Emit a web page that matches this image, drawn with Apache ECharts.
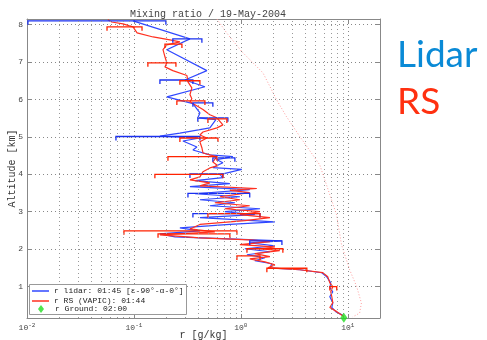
<!DOCTYPE html>
<html>
<head>
<meta charset="utf-8">
<script src="https://cdn.jsdelivr.net/npm/echarts@6/dist/echarts.min.js"></script>
<style>html,body{margin:0;padding:0;background:#fff}#c{width:487px;height:340px}</style>
</head>
<body>
<div id="c"></div>
<script>
// ---- data ----
const lidarAlt = [8.10,7.62,7.33,6.77,6.52,6.34,6.07,5.89,5.64,5.51,5.46,5.24,5.10,5.02,4.97,4.89,4.73,4.65,4.52,4.47,4.39,4.31,4.18,4.13,3.99,3.91,3.83,3.75,3.67,3.59,3.48,3.40,3.32,3.24,3.16,3.08,3.00,2.92,2.84,2.73,2.66,2.57,2.49,2.41,2.33,2.22,2.17,2.09,2.01,1.93,1.85,1.77,1.69,1.61,1.50,1.45,1.37,1.26,1.10,0.97,0.86,0.73,0.57,0.44,0.33,0.23];
const lidarR = [0.098,0.334,0.203,0.481,0.300,0.461,0.203,0.356,0.414,0.396,0.584,0.513,0.269,0.175,0.414,0.287,0.388,0.356,0.513,0.842,0.597,0.679,0.547,1.02,0.637,0.679,0.372,0.789,0.334,1.21,0.372,0.979,0.414,0.879,0.513,1.51,0.708,1.35,0.414,2.08,0.789,0.269,0.414,0.175,0.242,2.42,1.21,2.08,1.09,1.87,1.14,1.68,1.35,1.95,1.87,3.56,5.71,6.36,6.93,6.79,7.24,6.79,7.24,7.08,7.72,8.98];

const rsAlt = [8.13,8.07,8.02,7.94,7.78,7.67,7.59,7.54,7.46,7.33,7.14,6.98,6.87,6.77,6.64,6.47,6.31,6.13,6.02,5.94,5.73,5.59,5.51,5.32,5.24,5.13,5.05,4.97,4.87,4.71,4.57,4.47,4.33,4.23,4.17,4.07,3.93,3.85,3.77,3.69,3.62,3.57,3.51,3.40,3.32,3.24,3.16,3.08,3.00,2.92,2.84,2.76,2.66,2.54,2.46,2.38,2.30,2.25,2.20,2.12,2.06,2.01,1.96,1.88,1.80,1.74,1.66,1.58,1.50,1.45,1.37,1.26,1.10,1.00,0.86,0.73,0.57,0.44,0.33,0.20];
const rsR = [0.057,0.062,0.079,0.098,0.107,0.151,0.217,0.269,0.203,0.187,0.195,0.203,0.195,0.231,0.313,0.320,0.348,0.334,0.348,0.334,0.442,0.513,0.597,0.679,0.597,0.442,0.414,0.481,0.414,0.432,0.442,0.597,0.547,0.610,0.513,0.442,0.414,0.334,0.513,0.414,1.41,0.789,1.21,0.637,0.979,0.571,1.21,0.708,1.51,0.979,1.87,1.09,0.414,0.334,0.571,0.175,0.414,1.21,1.87,0.979,2.08,1.51,2.31,1.35,1.87,1.21,1.68,2.08,1.79,3.56,5.84,6.50,6.79,7.24,6.93,7.08,7.24,6.79,7.88,9.18];

const lidarErrAlt = [8.10,7.62,6.52,5.91,5.51,5.01,4.44,4.01,3.49,2.95,2.22];
const lidarErrLo  = [0.0102,0.231,0.175,0.356,0.396,0.0679,0.547,0.334,0.320,0.356,1.21];
const lidarErrHi  = [0.199,0.432,0.356,0.547,0.756,0.414,0.879,0.679,1.21,1.51,2.42];

const rsErrAlt = [7.94,7.48,6.98,6.50,5.96,5.48,4.97,4.47,4.00,2.95,2.49,2.41,2.01,1.82,1.49,1.00];
const rsErrLo  = [0.056,0.195,0.135,0.269,0.252,0.492,0.269,0.208,0.157,0.492,0.0806,0.168,1.14,0.918,1.75,6.79];
const rsErrHi  = [0.119,0.281,0.247,0.414,0.461,0.740,0.610,0.597,0.679,1.51,0.918,0.789,2.47,1.51,4.14,7.88];

const satAlt = [8.15,7.77,7.28,6.71,5.99,5.54,5.01,4.25,2.92,2.12,1.45,1.00,0.56,0.29,0.19];
const satR   = [0.597,0.74,1.02,1.61,2.16,2.67,3.56,5.47,7.84,8.73,10.4,12.1,13.4,12.9,11.1];

const groundAlt = [0.17];
const groundR = [9.18];

const xDecades = [0.01, 0.1, 1, 10];
const xMinorMult = [2,3,4,5,6,7,8,9];
const yTicks = [1,2,3,4,5,6,7,8];

const names = {
  lidar: 'r lidar: 01:45 [ε-90°-α-0°]',
  rs: 'r RS (VAPIC): 01:44',
  ground: 'r Ground: 02:00'
};

// ---- build ----
const zip = (xs, ys) => xs.map((x, i) => [x, ys[i]]);
const minorVals = [];
xDecades.forEach(d => xMinorMult.forEach(m => { const v = d * m; if (v < 20) minorVals.push(v); }));

const MONO = 'Liberation Mono';
function errSeries(alt, lo, hi, color) {
  return {
    type: 'custom', silent: true, clip: true, z: 4,
    data: alt.map((a, i) => [lo[i], a, hi[i]]),
    renderItem: function (params, api) {
      const p1 = api.coord([api.value(0), api.value(1)]);
      const p2 = api.coord([api.value(2), api.value(1)]);
      const c = 4;
      return {
        type: 'polyline',
        shape: { points: [[p1[0], p1[1] + c], [p1[0], p1[1]], [p2[0], p2[1]], [p2[0], p2[1] + c]] },
        style: { stroke: color, fill: null, lineWidth: 1.3 }
      };
    }
  };
}

const chart = echarts.init(document.getElementById('c'), null, { renderer: 'canvas' });
const xLabel = v => {
  const e = Math.round(Math.log10(v));
  if (Math.abs(v - Math.pow(10, e)) / v > 1e-6) return '';
  return '10{sup|' + e + '}';
};
const axisCommon = {
  axisLine: { show: true, lineStyle: { color: '#888', width: 1 } },
  axisTick: { show: true, inside: true, length: 4, lineStyle: { color: '#888' } }
};
chart.setOption({
  animation: false,
  backgroundColor: '#fff',
  grid: { left: 27, right: 107, top: 19, bottom: 22, outerBoundsMode: 'none', containLabel: false },
  xAxis: [Object.assign({
    type: 'log', logBase: 10, min: 0.01, max: 20,
    name: 'r [g/kg]', nameLocation: 'middle', nameGap: 12, nameMoveOverlap: false,
    nameTextStyle: { fontFamily: MONO, fontSize: 10, color: '#333' },
    axisLabel: {
      formatter: xLabel, margin: 4, color: '#444', fontFamily: MONO, fontSize: 8,
      rich: { sup: { fontSize: 6, fontFamily: MONO, color: '#444', verticalAlign: 'top', padding: [0, 0, 5, 0] } }
    },
    splitLine: { show: true, lineStyle: { color: '#888', type: [1, 3], width: 1 } }
  }, axisCommon), Object.assign({
    type: 'log', logBase: 10, min: 0.01, max: 20, position: 'top',
    axisLabel: { show: false }, splitLine: { show: false }
  }, axisCommon)],
  yAxis: [Object.assign({
    type: 'value', min: 0.16, max: 8.15, minInterval: 1, maxInterval: 1,
    name: 'Altitude [km]', nameLocation: 'middle', nameGap: 10, nameMoveOverlap: false,
    nameTextStyle: { fontFamily: MONO, fontSize: 10, color: '#333' },
    axisLabel: { formatter: v => (yTicks.indexOf(v) >= 0 ? String(v) : ''), margin: 4, color: '#444', fontFamily: MONO, fontSize: 8 },
    splitLine: { show: true, lineStyle: { color: '#888', type: [1, 3], width: 1 } }
  }, axisCommon), Object.assign({
    type: 'value', min: 0.16, max: 8.15, minInterval: 1, maxInterval: 1, position: 'right',
    axisLabel: { show: false }, splitLine: { show: false }
  }, axisCommon)],
  legend: [{
    orient: 'vertical', left: 32, top: 287, z: 20,
    data: [names.lidar, names.rs],
    icon: 'rect', itemWidth: 17, itemHeight: 1.5, itemGap: 2,
    padding: 0,
    textStyle: { fontFamily: MONO, fontSize: 8, color: '#222', lineHeight: 8 }
  }, {
    orient: 'vertical', left: 38, top: 305, z: 20,
    data: [names.ground],
    icon: 'diamond', itemWidth: 6, itemHeight: 8,
    padding: 0,
    textStyle: { fontFamily: MONO, fontSize: 8, color: '#222', padding: [0, 0, 0, 6] }
  }],
  title: {
    text: 'Mixing ratio / 19-May-2004', left: 203, top: 4, textAlign: 'center',
    textStyle: { fontFamily: MONO, fontSize: 10, fontWeight: 'normal', color: '#444' }
  },
  graphic: [
    { type: 'rect', left: 29, top: 284, z: 10, shape: { width: 157, height: 30 }, style: { fill: '#fff', stroke: '#999', lineWidth: 1 } },
    { type: 'text', left: 397, top: 37, style: { text: 'Lidar', font: '37px Lato', fill: '#0a8ad6' } },
    { type: 'text', left: 397, top: 84, style: { text: 'RS', font: '37px Lato', fill: '#ff3010' } }
  ],
  series: [
    {
      type: 'line', silent: true, symbol: 'none', data: [], z: 1,
      markLine: {
        silent: true, symbol: 'none', label: { show: false },
        lineStyle: { color: '#999', type: [1, 3], width: 1 },
        data: minorVals.map(v => ({ xAxis: v }))
      }
    },
    {
      type: 'line', name: 'sat', data: zip(satR, satAlt), symbol: 'none', silent: true, z: 2,
      lineStyle: { color: '#ff9c9c', width: 1, type: [1, 2] }
    },
    {
      type: 'line', name: names.lidar, data: zip(lidarR, lidarAlt), symbol: 'none', z: 3,
      lineStyle: { color: '#3048ff', width: 1.2 }, itemStyle: { color: '#3048ff' }
    },
    {
      type: 'line', name: names.rs, data: zip(rsR, rsAlt), symbol: 'none', z: 3,
      lineStyle: { color: '#ff3020', width: 1.2 }, itemStyle: { color: '#ff3020' }
    },
    errSeries(lidarErrAlt, lidarErrLo, lidarErrHi, '#1a30f0'),
    errSeries(rsErrAlt, rsErrLo, rsErrHi, '#ff2200'),
    {
      type: 'scatter', name: names.ground, data: zip(groundR, groundAlt), symbol: 'diamond',
      symbolSize: [7, 10], clip: false, z: 6, itemStyle: { color: '#22dd22' }
    }
  ]
});
</script>
</body>
</html>
